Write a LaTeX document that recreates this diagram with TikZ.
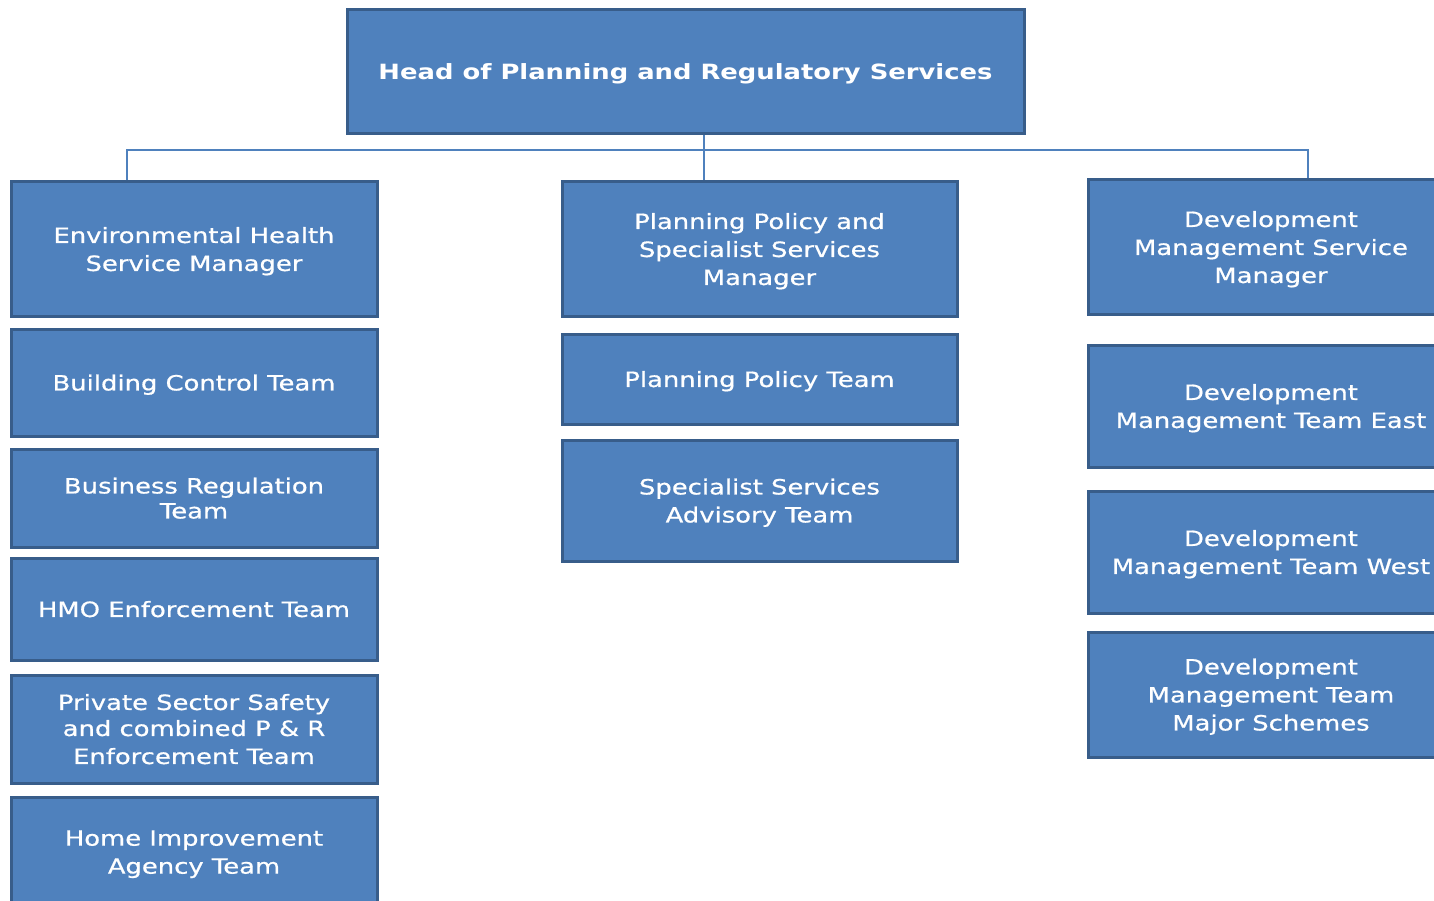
\documentclass[tikz,border=0pt]{standalone}
\usepackage{fontspec}
\setmainfont{DejaVu Sans}[FakeStretch=1.23, UprightFeatures={FakeBold=0.7}]
\usepackage{tikz}
\usetikzlibrary{positioning}
\definecolor{orgblue}{RGB}{79,129,189}
\definecolor{orgedge}{RGB}{56,93,138}

\tikzset{
    orgbox/.style={draw=orgedge, line width=3pt, fill=orgblue, text=white,
        align=center, inner sep=0pt, text depth=0pt, font=\fontsize{21}{28}\selectfont},
    link/.style={draw=orgblue, line width=2pt}
}

\begin{document}
\begin{tikzpicture}[x=1pt, y=-1pt]
    \useasboundingbox (0,0) rectangle (1434,901);

    % Head
    \node[orgbox, minimum width=677pt, minimum height=124pt, font=\bfseries\fontsize{21}{28}\selectfont]
          (head) at (685.5,72) {Head of Planning and Regulatory Services};

    % Left column
    \node[orgbox, minimum width=366pt, minimum height=134pt] (envhealth) at (194,249)
          {Environmental Health\\Service Manager};
    \node[orgbox, minimum width=366pt, minimum height=107pt] (buildctrl) at (194,382.5)
          {Building Control Team};
    \node[orgbox, minimum width=366pt, minimum height=98pt] (busreg) at (194,498)
          {Business Regulation\\[-3pt]Team};
    \node[orgbox, minimum width=366pt, minimum height=102pt] (hmo) at (194,609)
          {HMO Enforcement Team};
    \node[orgbox, minimum width=366pt, minimum height=108pt] (privsector) at (194,729)
          {Private Sector Safety\\[-2pt]and combined P \& R\\Enforcement Team};
    \node[orgbox, minimum width=366pt, minimum height=110pt] (homeimp) at (194,852)
          {Home Improvement\\Agency Team};

    % Middle column
    \node[orgbox, minimum width=395pt, minimum height=134pt] (planpol) at (759.5,249)
          {Planning Policy and\\Specialist Services\\Manager};
    \node[orgbox, minimum width=395pt, minimum height=90pt] (polteam) at (759.5,379)
          {Planning Policy Team};
    \node[orgbox, minimum width=395pt, minimum height=121pt] (specteam) at (759.5,500.5)
          {Specialist Services\\Advisory Team};

    % Right column
    \node[orgbox, minimum width=366pt, minimum height=134pt] (devman) at (1271,247)
          {Development\\Management Service\\Manager};
    \node[orgbox, minimum width=366pt, minimum height=122pt] (deveast) at (1271,406)
          {Development\\Management Team East};
    \node[orgbox, minimum width=366pt, minimum height=122pt] (devwest) at (1271,552)
          {Development\\Management Team West};
    \node[orgbox, minimum width=366pt, minimum height=125pt] (devmajor) at (1271,694.5)
          {Development\\Management Team\\Major Schemes};

    % Connectors
    \coordinate (busmid) at (704,150);
    \coordinate (busleft) at (127,150);
    \coordinate (busright) at (1308,150);
    \draw[link] (head.south -| busmid) -- (busmid);
    \draw[link] (busleft |- envhealth.north) -- (busleft) -- (busright) -- (busright |- devman.north);
    \draw[link] (busmid) -- (busmid |- planpol.north);
\end{tikzpicture}
\end{document}
